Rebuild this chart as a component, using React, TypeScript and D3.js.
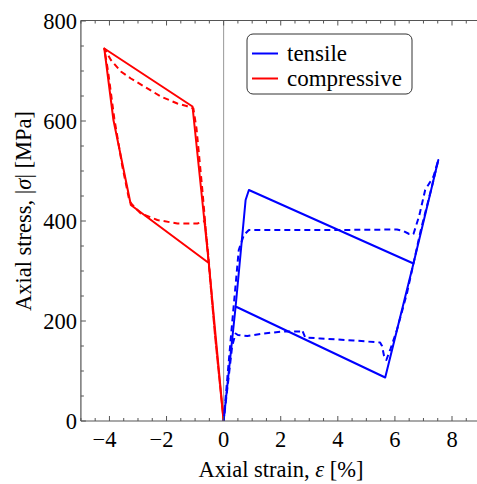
import React from "react";
import * as d3 from "d3";

// ---- data (strain in %, stress |σ| in MPa) ----
const tensileSolidStrain = [0, 0.42, 0.77, 0.885, 6.65, 7.52, 6.65, 5.66, 0.42, 0];
const tensileSolidStress = [0, 229, 442, 462, 315, 522, 315, 87, 229, 0];

const tensileDashedStrain = [0, 0.245, 0.53, 0.71, 0.885, 2.0, 4.0, 6.07, 6.3, 6.5, 6.65, 6.85, 7.06, 7.35, 7.52,
  7.3, 6.9, 6.42, 6.07, 5.85, 5.7, 5.62, 5.55, 5.48, 4.55, 3.39, 2.86, 2.75, 2.69, 2.1, 1.41, 0.83, 0.5, 0.42, 0.3, 0];
const tensileDashedStress = [0, 162, 342, 372, 382, 382, 382, 383, 380, 374, 374, 410, 462, 489, 522,
  470, 380, 255, 182, 145, 122, 130, 150, 157, 161, 165, 167, 182, 179, 179, 175, 170, 172, 175, 150, 0];

const compSolidStrain = [0, -0.52, -1.09, -4.18, -3.86, -3.25, -0.52, 0];
const compSolidStress = [0, 316, 629, 745, 602, 432, 316, 0];

const compDashedStrain = [0, -0.3, -0.5, -0.75, -0.95, -1.06, -1.3, -1.62, -2.2, -2.78, -3.25, -3.6, -3.95, -4.12, -4.18,
  -4.05, -3.83, -3.55, -3.3, -3.19, -2.9, -2.32, -1.62, -0.92, -0.66, -0.55, -0.3, 0];
const compDashedStress = [0, 170, 300, 465, 585, 625, 630, 635, 649, 669, 685, 699, 722, 739, 745,
  700, 605, 510, 440, 432, 415, 402, 395, 395, 400, 340, 170, 0];

const xTickValues = [-4, -2, 0, 2, 4, 6, 8];
const yTickValues = [0, 200, 400, 600, 800];
const legendLabels = ["tensile", "compressive"];
const legendColors = ["#0000ff", "#ff0000"];

const FONT = "'Liberation Serif', 'Times New Roman', serif";

export default function App() {
  const W = 477, H = 484;
  const x = d3.scaleLinear().domain([-5, 8]).range([80.9, 452]);
  const y = d3.scaleLinear().domain([0, 800]).range([421, 21]);
  const xEnd = W;
  const top = 20.5;
  const bottom = 421;
  const left = 80.9;

  const line = d3.line<[number, number]>().x((d) => x(d[0])).y((d) => y(d[1]));
  const zip = (a: number[], b: number[]) => a.map((v, i) => [v, b[i]] as [number, number]);

  const xMinor = d3.range(-5, 9.0, 0.5).filter((v) => x(v) <= xEnd);
  const yMinor = d3.range(0, 801, 50);
  const axisColor = "#555";

  return (
    <svg width={W} height={H} style={{ position: "absolute", left: 0, top: 0, background: "#fff" }} fontFamily={FONT}>
      {/* zero line */}
      <line x1={x(0)} x2={x(0)} y1={top} y2={bottom} stroke="#999" strokeWidth={1} />

      {/* curves */}
      <path d={line(zip(compSolidStrain, compSolidStress)) || ""} fill="none" stroke={legendColors[1]} strokeWidth={2} strokeLinejoin="round" />
      <path d={line(zip(compDashedStrain, compDashedStress)) || ""} fill="none" stroke={legendColors[1]} strokeWidth={2} strokeDasharray="6,4" strokeLinejoin="round" />
      <path d={line(zip(tensileSolidStrain, tensileSolidStress)) || ""} fill="none" stroke={legendColors[0]} strokeWidth={2} strokeLinejoin="round" />
      <path d={line(zip(tensileDashedStrain, tensileDashedStress)) || ""} fill="none" stroke={legendColors[0]} strokeWidth={2} strokeDasharray="6,4" strokeLinejoin="round" />

      {/* frame */}
      <line x1={left} x2={xEnd} y1={bottom} y2={bottom} stroke={axisColor} strokeWidth={1.2} />
      <line x1={left} x2={xEnd} y1={top} y2={top} stroke={axisColor} strokeWidth={1.2} />
      <line x1={left} x2={left} y1={top} y2={bottom} stroke={axisColor} strokeWidth={1.2} />

      {/* x ticks */}
      {xMinor.map((v) => {
        const major = Math.abs(v % 2) < 1e-9;
        const len = major ? 5 : 3;
        return (
          <g key={"xt" + v}>
            <line x1={x(v)} x2={x(v)} y1={bottom} y2={bottom - len} stroke={axisColor} strokeWidth={1} />
            <line x1={x(v)} x2={x(v)} y1={top} y2={top + len} stroke={axisColor} strokeWidth={1} />
          </g>
        );
      })}
      {yMinor.map((v) => {
        const major = v % 200 === 0;
        const len = major ? 5 : 3;
        return <line key={"yt" + v} x1={left} x2={left + len} y1={y(v)} y2={y(v)} stroke={axisColor} strokeWidth={1} />;
      })}

      {/* tick labels */}
      {xTickValues.map((v) => (
        <text key={"xl" + v} x={x(v) - (v < 0 ? 5 : 0)} y={447} textAnchor="middle" fontSize={22.5} fill="#000">
          {v < 0 ? "\u2212" + Math.abs(v) : String(v)}
        </text>
      ))}
      {yTickValues.map((v) => (
        <text key={"yl" + v} x={77} y={y(v) + 7.5} textAnchor="end" fontSize={22.5} fill="#000">
          {v}
        </text>
      ))}

      {/* axis labels */}
      <text x={281} y={477} textAnchor="middle" fontSize={22.5} fill="#000">
        Axial strain, <tspan fontStyle="italic">ε</tspan> [%]
      </text>
      <text transform="translate(31,211) rotate(-90)" textAnchor="middle" fontSize={22.5} fill="#000">
        Axial stress, |<tspan fontStyle="italic">σ</tspan>| [MPa]
      </text>

      {/* legend */}
      <rect x={247} y={34} width={165} height={60} rx={6} ry={6} fill="#fff" stroke="#333" strokeWidth={1} />
      {legendLabels.map((lab, i) => (
        <g key={lab}>
          <line x1={252} x2={278} y1={53.5 + i * 25} y2={53.5 + i * 25} stroke={legendColors[i]} strokeWidth={2} />
          <text x={287} y={60.5 + i * 25} fontSize={23} fill="#000">{lab}</text>
        </g>
      ))}
    </svg>
  );
}
